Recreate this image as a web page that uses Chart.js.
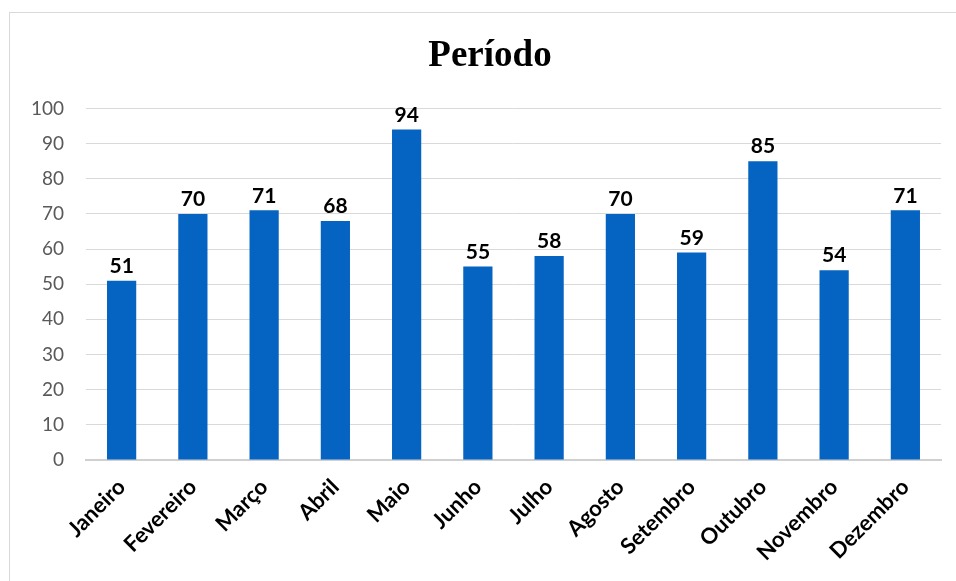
<!DOCTYPE html>
<html>
<head>
<meta charset="utf-8">
<script src="https://cdn.jsdelivr.net/npm/chart.js@4"></script>
<style>
  html, body { margin: 0; padding: 0; background: #fff; overflow: hidden; }
  #moldura { position: absolute; left: 9px; top: 12px; width: 980px; height: 600px; border: 1px solid #d9d9d9; box-sizing: border-box; }
  #wrap { position: absolute; left: 0; top: 0; width: 986px; height: 581px; }
</style>
</head>
<body>
<div id="moldura"></div>
<div id="wrap"><canvas id="grafico" width="986" height="581"></canvas></div>
<script>
// Dados do gráfico
const meses = ['Janeiro', 'Fevereiro', 'Março', 'Abril', 'Maio', 'Junho', 'Julho', 'Agosto', 'Setembro', 'Outubro', 'Novembro', 'Dezembro'];
const valores = [51, 70, 71, 68, 94, 55, 58, 70, 59, 85, 54, 71];
const tituloTexto = 'Período';

// Rótulos em cima das barras
const rotulosBarras = {
    id: 'rotulosBarras',
    afterDatasetsDraw(chart) {
        const ctx = chart.ctx;
        const meta = chart.getDatasetMeta(0);
        ctx.save();
        ctx.font = 'bold 21px Lato';
        ctx.fillStyle = '#000';
        ctx.textAlign = 'center';
        ctx.textBaseline = 'bottom';
        meta.data.forEach((bar, i) => {
            ctx.fillText(valores[i], bar.x, bar.y - 4);
        });
        ctx.restore();
    }
};

new Chart(document.getElementById('grafico').getContext('2d'), {
    type: 'bar',
    data: {
        labels: meses,
        datasets: [{
            data: valores,
            backgroundColor: '#0563C1',
            borderWidth: 0,
            categoryPercentage: 1,
            barPercentage: 0.41
        }]
    },
    options: {
        responsive: false,
        animation: false,
        layout: { padding: { left: 10, right: 16, top: 12, bottom: 0 } },
        plugins: {
            legend: { display: false },
            tooltip: { enabled: false },
            title: {
                display: true,
                text: tituloTexto,
                color: '#000',
                font: { family: 'Liberation Serif', size: 37, weight: 'bold' },
                padding: { top: 22, bottom: 30 }
            }
        },
        scales: {
            y: {
                min: 0,
                max: 100,
                ticks: {
                    stepSize: 10,
                    color: '#595959',
                    font: { family: 'Lato', size: 19 },
                    padding: 22
                },
                grid: { color: '#d9d9d9', lineWidth: 1, drawTicks: false },
                border: { display: false },
                afterFit(scale) { scale.width = 76; }
            },
            // eixo vazio só para deixar a margem direita igual ao original
            margem: {
                position: 'right',
                display: true,
                ticks: { display: false },
                grid: { display: false, drawTicks: false },
                border: { display: false },
                afterFit(scale) { scale.width = 29; }
            },
            x: {
                ticks: {
                    color: '#000',
                    font: { family: 'Lato', size: 22, weight: 'bold' },
                    minRotation: 45,
                    maxRotation: 45,
                    padding: 14,
                    autoSkip: false
                },
                grid: { display: false, drawTicks: false },
                border: { display: true, color: '#d0d0d0', width: 2 },
                afterFit(scale) { scale.height = 121; }
            }
        }
    },
    plugins: [rotulosBarras]
});
</script>
</body>
</html>
